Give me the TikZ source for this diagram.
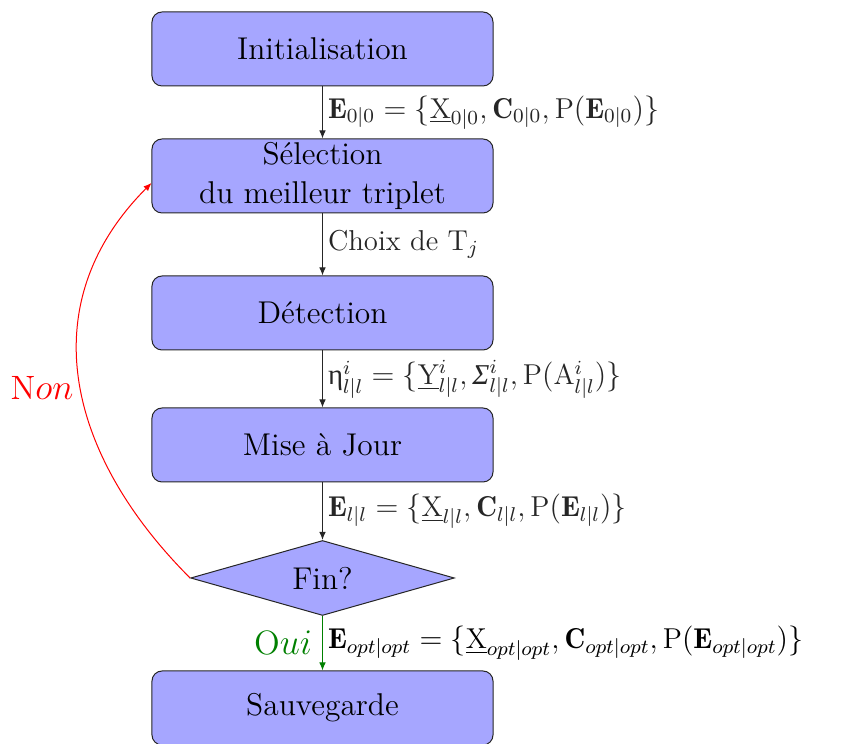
\documentclass[tikz,border=0pt]{standalone}
\usepackage{fontspec}
\newfontfamily\grk{Liberation Serif}
\usetikzlibrary{shapes.geometric,arrows.meta}
\newcommand{\up}[1]{\mathrm{#1}}
\begin{document}
\begin{tikzpicture}[x=0.4pt,y=-0.4pt,
  stepbox/.style={draw=black!85,fill=blue!35,rounded corners=4pt,minimum width=136.4pt,minimum height=29.6pt,inner sep=0pt,font=\fontsize{12.6}{15.5}\selectfont,align=center},
  testbox/.style={draw=black!85,fill=blue!35,diamond,aspect=3.5,minimum width=105.5pt,minimum height=30pt,inner sep=0pt,font=\fontsize{12.6}{14.5}\selectfont},
  flow/.style={-{Latex[length=3.2pt,width=2.6pt]},black!85},
  lab/.style={right,inner sep=2pt,font=\fontsize{11.5}{13}\selectfont}]
\useasboundingbox (0,0) rectangle (855,744);
\node[stepbox] (init) at (322.5,49) {Initialisation};
\node[stepbox] (sel) at (322.5,176) {Sélection\\du meilleur triplet};
\node[stepbox] (det) at (322.5,313) {Détection};
\node[stepbox] (maj) at (322.5,445) {Mise à Jour};
\node[testbox] (fin) at (322.5,578) {Fin?};
\node[stepbox] (sauv) at (322.5,708) {Sauvegarde};
\draw[flow] (init) -- node[lab] {$\mathbf{E}_{0|0}=\{\underline{\up{X}}_{0|0},\mathbf{C}_{0|0},\up{P}(\mathbf{E}_{0|0})\}$} (sel);
\draw[flow] (sel) -- node[lab] {Choix de $\up{T}_j$} (det);
\draw[flow] (det) -- node[lab] {$\hbox{\grk η}^i_{l|l}=\{\underline{\up{Y}}^i_{l|l},\hbox{\grk\itshape Σ}^i_{l|l},\up{P}(\up{A}^i_{l|l})\}$} (maj);
\draw[flow] (maj) -- node[lab] {$\mathbf{E}_{l|l}=\{\underline{\up{X}}_{l|l},\mathbf{C}_{l|l},\up{P}(\mathbf{E}_{l|l})\}$} (fin);
\draw[flow,draw=green!50!black,-{Latex[length=3.2pt,width=2.6pt,fill=green!50!black]}] (fin) -- node[lab,text=black] {$\mathbf{E}_{opt|opt}=\{\underline{\up{X}}_{opt|opt},\mathbf{C}_{opt|opt},\up{P}(\mathbf{E}_{opt|opt})\}$}
  node[left,inner sep=4pt,text=green!50!black,font=\fontsize{13.5}{15}\selectfont] {$\up{O}ui$} (sauv);
\draw[red,-{Latex[length=3.2pt,width=2.6pt]}] (fin.west) .. controls (68,456) and (30,305) .. (sel.west |- 0,183);
\node[red,font=\fontsize{13.5}{15}\selectfont] (non) at (42,388) {$\up{N}on$};
\end{tikzpicture}
\end{document}
